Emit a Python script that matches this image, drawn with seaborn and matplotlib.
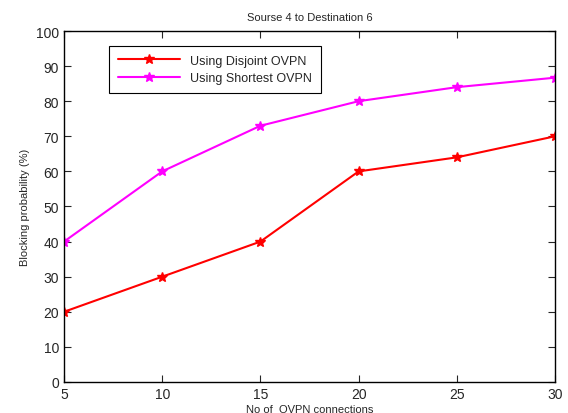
import matplotlib
matplotlib.use("Agg")
import matplotlib.pyplot as plt
import seaborn as sns
import pandas as pd

connections = [5, 10, 15, 20, 25, 30]
disjoint = [20, 30, 40, 60, 64, 70]
shortest = [40, 60, 73, 80, 84, 86.7]
labels = ["Using Disjoint OVPN", "Using Shortest OVPN"]
colors = ["#ff0000", "#ff00ff"]

sns.set_style("ticks")
plt.rcParams['font.family'] = ['Liberation Sans', 'DejaVu Sans']

df = pd.DataFrame({
    "x": connections * 2,
    "y": disjoint + shortest,
    "series": [labels[0]] * 6 + [labels[1]] * 6,
})

fig = plt.figure(figsize=(5.68, 4.14), dpi=100)
ax = fig.add_axes([0.1127, 0.0749, 0.8644, 0.8478])
sns.lineplot(data=df, x="x", y="y", hue="series", palette=colors,
             marker="*", markersize=7, linewidth=1.5, ax=ax)
for ln in ax.get_lines():
    ln.set_markeredgecolor(ln.get_color())
    ln.set_markeredgewidth(1.0)

ax.set_xlim(5, 30)
ax.set_ylim(0, 100)
ax.set_xticks(connections)
ax.set_yticks(range(0, 101, 10))
ax.tick_params(direction="in", length=5, labelsize=10, top=True, right=True, width=0.8)
for s in ax.spines.values():
    s.set_visible(True)
    s.set_linewidth(1.0)
    s.set_color("black")
ax.set_xlabel("No of  OVPN connections", fontsize=8, labelpad=2)
ax.set_ylabel("Blocking probability (%)", fontsize=8)
ax.set_title("Sourse 4 to Destination 6", fontsize=8, pad=8)
leg = ax.legend(loc="upper left", bbox_to_anchor=(0.079, 0.975), fontsize=9,
                frameon=True, fancybox=False, edgecolor="black", framealpha=1,
                handlelength=5, borderpad=0.7, labelspacing=0.45)
leg.get_frame().set_linewidth(0.8)
for h in leg.legend_handles:
    h.set_markeredgecolor(h.get_color())
fig.savefig("out.png", dpi=100)
